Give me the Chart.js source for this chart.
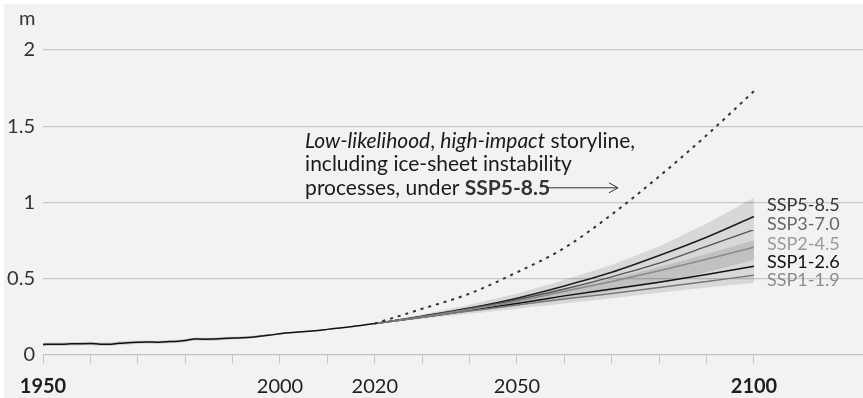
<!DOCTYPE html>
<html><head><meta charset="utf-8">
<script src="https://cdn.jsdelivr.net/npm/chart.js@4.4.1/dist/chart.umd.min.js"></script>
<style>html,body{margin:0;padding:0;background:#fff;}#wrap{width:863px;height:398px;position:relative;}canvas{display:block;}</style>
</head><body><div id="wrap"><canvas id="c" width="863" height="398"></canvas></div>
<script>
// ---- data ----
const histYears = [1950,1952,1954,1956,1958,1960,1962,1964,1966,1968,1970,1972,1974,1976,1978,1980,1982,1984,1986,1988,1990,1992,1994,1996,1998,2000,2002,2004,2006,2008,2010,2012,2014,2016,2018,2020];
const histValues = [0.066,0.068,0.067,0.070,0.071,0.072,0.068,0.067,0.074,0.077,0.080,0.082,0.081,0.084,0.086,0.092,0.102,0.100,0.101,0.105,0.108,0.110,0.114,0.121,0.128,0.137,0.143,0.148,0.153,0.158,0.165,0.172,0.179,0.187,0.195,0.203];
const histSpread = [0.011,0.011,0.011,0.011,0.011,0.011,0.011,0.011,0.011,0.011,0.010,0.010,0.010,0.010,0.010,0.010,0.010,0.010,0.010,0.010,0.009,0.009,0.008,0.008,0.007,0.006,0.005,0.005,0.004,0.004,0.004,0.003,0.003,0.003,0.003,0.003];

const projYears = [2020,2030,2040,2050,2060,2070,2080,2090,2100];
const ssp119 = [0.203,0.245,0.285,0.325,0.365,0.400,0.440,0.480,0.520];
const ssp126 = [0.203,0.245,0.290,0.335,0.385,0.430,0.475,0.525,0.580];
const ssp245 = [0.203,0.247,0.295,0.350,0.415,0.480,0.550,0.625,0.705];
const ssp370 = [0.203,0.250,0.300,0.360,0.430,0.510,0.600,0.710,0.820];
const ssp585 = [0.203,0.252,0.305,0.370,0.450,0.540,0.650,0.770,0.906];
const range370Low  = [0.203,0.240,0.280,0.322,0.368,0.415,0.468,0.540,0.620];
const range370High = [0.203,0.262,0.327,0.400,0.490,0.590,0.710,0.860,1.030];
const range126Low  = [0.203,0.235,0.268,0.300,0.335,0.370,0.405,0.440,0.470];
const range126High = [0.203,0.255,0.310,0.370,0.430,0.500,0.575,0.660,0.750];
const storyline = [0.203,0.300,0.400,0.540,0.700,0.920,1.170,1.440,1.730];

const scenarioNames = ['SSP5-8.5','SSP3-7.0','SSP2-4.5','SSP1-2.6','SSP1-1.9'];
const yTickValues = [0,0.5,1,1.5,2];
const xTickYears = [1950,1960,1970,1980,1990,2000,2010,2020,2030,2040,2050,2060,2070,2080,2090,2100];
const xLabelYears = [1950,2000,2020,2050,2100];
const boldYears = [1950,2100];

// ---- styles ----
const lineColors = {'SSP5-8.5':'#1e1e1e','SSP3-7.0':'#555555','SSP2-4.5':'#8a8a8a','SSP1-2.6':'#111111','SSP1-1.9':'#777777'};
const textColors = {'SSP5-8.5':'#333333','SSP3-7.0':'#666666','SSP2-4.5':'#9a9a9a','SSP1-2.6':'#111111','SSP1-1.9':'#8c8c8c'};
const labelYValues = [0.983,0.859,0.727,0.604,0.49];

const pts = (xs, ys) => xs.map((x,i)=>({x:x,y:ys[i]}));
const band = (lo, hi, color) => [
  {data: lo, borderWidth:0, pointRadius:0, fill:false, order:20},
  {data: hi, borderWidth:0, pointRadius:0, fill:'-1', backgroundColor:color, order:20}
];
const line = (d, color, w, extra) => Object.assign({data:d, borderColor:color, borderWidth:w, pointRadius:0, fill:false, order:1, cubicInterpolationMode:'monotone'}, extra||{});

const datasets = [
  ...band(pts(histYears, histValues.map((v,i)=>v-histSpread[i])), pts(histYears, histValues.map((v,i)=>v+histSpread[i])), 'rgba(0,0,0,0.17)'),
  ...band(pts(projYears, range126Low), pts(projYears, range126High), 'rgba(0,0,0,0.105)'),
  ...band(pts(projYears, range370Low), pts(projYears, range370High), 'rgba(0,0,0,0.105)'),
  line(pts(histYears, histValues), '#111111', 1.5),
  line(pts(projYears, ssp119), lineColors['SSP1-1.9'], 1.5),
  line(pts(projYears, ssp245), lineColors['SSP2-4.5'], 1.5),
  line(pts(projYears, ssp370), lineColors['SSP3-7.0'], 1.5),
  line(pts(projYears, ssp126), lineColors['SSP1-2.6'], 1.5),
  line(pts(projYears, ssp585), lineColors['SSP5-8.5'], 1.5),
  line(pts(projYears, storyline), '#333333', 2, {borderDash:[3,5], order:0})
];

const FONT = 'Lato';

const decor = {
  id:'decor',
  beforeDraw(chart){
    const c = chart.ctx;
    c.save();
    c.fillStyle = '#ffffff'; c.fillRect(0,0,chart.width,chart.height);
    c.fillStyle = '#f2f2f2'; c.fillRect(4,4,chart.width-4,chart.height-4);
    c.restore();
  },
  afterDraw(chart){
    const c = chart.ctx, xs = chart.scales.x, ys = chart.scales.y;
    c.save();
    // unit
    c.font = '20px ' + FONT; c.fillStyle = '#333'; c.textAlign='left'; c.textBaseline='middle';
    c.fillText('m', 19, 19);
    // scenario labels
    c.font = '18px ' + FONT;
    scenarioNames.forEach((n,i)=>{
      c.fillStyle = textColors[n];
      c.fillText(n, 767, ys.getPixelForValue(labelYValues[i]));
    });
    // annotation
    const x0 = xs.getPixelForValue(2005.3);
    const lines = [
      [['italic ','Low-likelihood'],['',', '],['italic ','high-impact'],['',' storyline,']],
      [['','including ice-sheet instability']],
      [['','processes, under '],['bold ','SSP5-8.5']]
    ];
    const lineY = [1.40, 1.247, 1.095];
    let endX = 0;
    lines.forEach((runs, li)=>{
      let x = x0; const y = ys.getPixelForValue(lineY[li]);
      runs.forEach(r=>{
        c.font = r[0] + '21px ' + FONT;
        c.fillStyle = r[0]==='bold ' ? '#333' : '#1a1a1a';
        c.fillText(r[1], x, y);
        x += c.measureText(r[1]).width;
      });
      if(li===2) endX = x;
    });
    const ay = ys.getPixelForValue(1.095);
    const ax2 = xs.getPixelForValue(2071.3);
    c.strokeStyle = '#333'; c.lineWidth = 1;
    c.beginPath(); c.moveTo(endX - 4, ay); c.lineTo(ax2, ay); c.stroke();
    c.beginPath(); c.moveTo(ax2-9, ay-5); c.lineTo(ax2, ay); c.lineTo(ax2-9, ay+5); c.stroke();
    c.restore();
  }
};

new Chart(document.getElementById('c'), {
  type:'line',
  data:{datasets:datasets},
  options:{
    responsive:false, animation:false, devicePixelRatio:1,
    layout:{padding:{top:50,left:0,right:0,bottom:0}},
    plugins:{legend:{display:false}, tooltip:{enabled:false}},
    scales:{
      x:{
        type:'linear', min:1950, max:2123,
        afterFit(s){ s.height = 43.5; },
        afterBuildTicks(s){ s.ticks = xTickYears.map(v=>({value:v})); },
        ticks:{
          autoSkip:false, maxRotation:0, padding:11, color:'#1e1e1e',
          callback:(v)=> xLabelYears.includes(v) ? String(v) : '',
          font:(ctx)=>({family:FONT, size:20, weight: (ctx.tick && boldYears.includes(ctx.tick.value)) ? 'bold' : 'normal'})
        },
        grid:{drawOnChartArea:false, drawTicks:true, tickLength:9, color:'#c4c4c4', lineWidth:1},
        border:{display:true, color:'#c4c4c4', width:1}
      },
      y:{
        min:0, max:2,
        afterFit(s){ s.width = 43; },
        afterBuildTicks(s){ s.ticks = yTickValues.map(v=>({value:v})); },
        ticks:{padding:8, color:'#333', font:{family:FONT, size:20}, callback:(v)=>String(v)},
        grid:{drawTicks:false, color:'#c8c8c8', lineWidth:1.2},
        border:{display:false}
      }
    }
  },
  plugins:[decor]
});
</script></body></html>
